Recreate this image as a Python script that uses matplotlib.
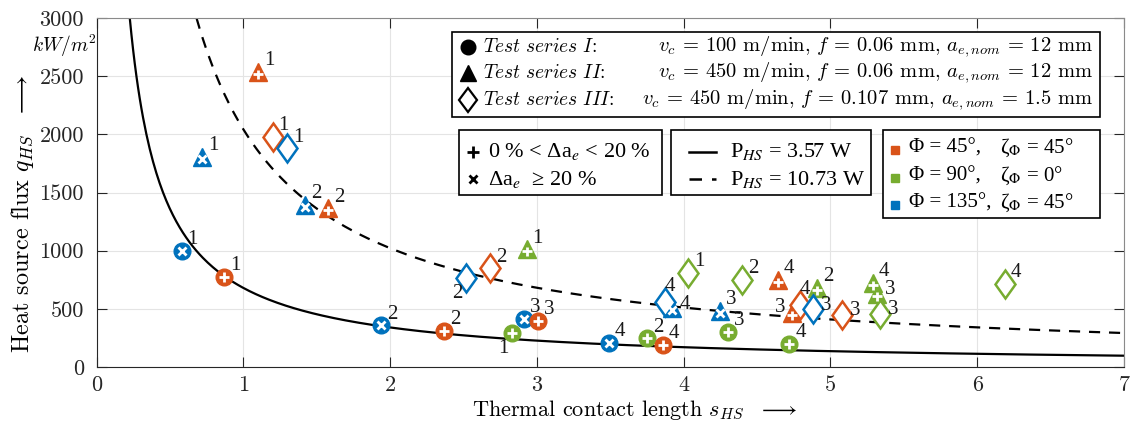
import numpy as np
import matplotlib
matplotlib.use('Agg')
import matplotlib.pyplot as plt
from matplotlib.markers import MarkerStyle
from matplotlib.transforms import Affine2D
from matplotlib.patches import Rectangle
from matplotlib.lines import Line2D

plt.rcParams['mathtext.fontset'] = 'cm'
plt.rcParams['font.family'] = 'cmr10'
plt.rcParams['axes.formatter.use_mathtext'] = True

# ---------------- data ----------------
# Test series I (circles)
s_I = [0.58, 0.87, 1.94, 2.37, 2.83, 2.91, 3.01, 3.49, 3.75, 3.86, 4.30, 4.72]
q_I = [1000, 775, 360, 310, 290, 412, 398, 209, 247, 189, 304, 198]
c_I = ['b', 'o', 'b', 'o', 'g', 'b', 'o', 'b', 'g', 'o', 'g', 'g']
n_I = ['1', '1', '2', '2', '1', '3', '3', '4', '2', '4', '3', '4']
p_I = ['ur', 'ur', 'ur', 'ur', 'll', 'ur', 'ur', 'ur', 'ur', 'ur', 'ur', 'ur']

# Test series II (triangles)
s_II = [0.72, 1.10, 1.42, 1.58, 2.93, 3.92, 4.25, 4.64, 4.74, 4.91, 5.29, 5.32]
q_II = [1808, 2540, 1393, 1364, 1012, 504, 484, 748, 463, 679, 725, 627]
c_II = ['b', 'o', 'b', 'o', 'g', 'b', 'b', 'o', 'o', 'g', 'g', 'g']
n_II = ['1', '1', '2', '2', '1', '4', '3', '4', '3', '2', '4', '3']
p_II = ['ur', 'ur', 'ur', 'ur', 'ur', 'r', 'ur', 'ur', 'l', 'ur', 'ur', 'r']

# Test series III (diamonds)
s_III = [1.20, 1.30, 2.52, 2.68, 3.87, 4.03, 4.40, 4.79, 4.88, 5.08, 5.34, 6.19]
q_III = [1980, 1880, 762, 848, 562, 811, 748, 533, 496, 447, 456, 713]
c_III = ['o', 'b', 'b', 'o', 'b', 'g', 'g', 'o', 'b', 'o', 'g', 'g']
n_III = ['1', '1', '2', '2', '4', '1', '2', '4', '3', '3', '3', '4']
p_III = ['ur', 'ur', 'll', 'ur', 'u', 'ur', 'ur', 'u', 'r', 'r', 'r', 'ur']

# Heat source power lines q = P / (s * b)
P_HS = [3.57, 10.73]          # W
b_HS = 5.25                    # mm
line_styles = ['-', '--']

x_ticks = [0, 1, 2, 3, 4, 5, 6, 7]
y_ticks = [0, 500, 1000, 1500, 2000, 2500, 3000]

colors = {'o': '#D95319', 'g': '#77AC30', 'b': '#0072BD'}
# ---------------------------------------

W, H = 1130, 425
fig = plt.figure(figsize=(W / 100, H / 100), dpi=100)
L, R, T, B = 96.5, 1124, 18, 367
ax = fig.add_axes([L / W, 1 - B / H, (R - L) / W, (B - T) / H])


def fx(x):
    return x / W


def fy(y):
    return 1 - y / H


ax.set_xlim(0, 7)
ax.set_ylim(0, 3000)
ax.set_xticks(x_ticks)
ax.set_yticks(y_ticks)
ax.set_xticklabels([str(v) for v in x_ticks])
ax.set_yticklabels([str(v) for v in y_ticks])
ax.tick_params(direction='in', length=7, width=0.8, top=True, right=True,
               labelsize=16, colors='#262626')
ax.tick_params(axis='x', pad=6)
ax.tick_params(axis='y', pad=9)
ax.grid(True, color='#e4e4e4', lw=0.8)
ax.set_axisbelow(True)
for sp in ['left', 'bottom']:
    ax.spines[sp].set_color('#262626')
for sp in ['top', 'right']:
    ax.spines[sp].set_color('#8a8a8a')

# hyperbolas
for P, ls in zip(P_HS, line_styles):
    k = 1000.0 * P / b_HS
    s = np.linspace(k / 3000.0, 7, 600)
    ax.plot(s, k / s, color='black', ls=ls, lw=1.6, zorder=2,
            dashes=(5, 4) if ls == '--' else (None, None))

MS_C = 12
MS_T = 13
MS_D = 14
diamond = MarkerStyle('D', transform=Affine2D().scale(0.75, 1.0))
offs = {'ur': (8, 8), 'r': (9.5, 3), 'u': (4, 11), 'l': (-9, 4), 'll': (-6.5, -11)}


def draw_series(s_list, q_list, c_list, n_list, p_list, kind):
    for s, q, c, n, p in zip(s_list, q_list, c_list, n_list, p_list):
        col = colors[c]
        inner = 'x' if c == 'b' else '+'
        if kind == 'circle':
            ax.plot([s], [q], 'o', ms=MS_C, color=col, mec=col, zorder=4)
            ax.plot([s], [q], marker=inner, ms=6.5 if inner == '+' else 5.5,
                    mew=2.0, color='white', ls='none', zorder=5)
        elif kind == 'tri':
            ax.plot([s], [q], '^', ms=MS_T, color=col, mec=col, zorder=4)
            m = MarkerStyle(inner, transform=Affine2D().translate(0, -0.25))
            ax.plot([s], [q], marker=m, ms=6.5 if inner == '+' else 5.5,
                    mew=2.0, color='white', ls='none', zorder=5)
        else:
            ax.plot([s], [q], marker=diamond, ms=MS_D, mfc='white', mec=col,
                    mew=1.8, ls='none', zorder=4)
        ax.annotate(n, (s, q), xytext=offs[p], textcoords='offset points',
                    ha='center', va='center', fontsize=15,
                    family='Liberation Serif', color='#1a1a1a', zorder=6)


draw_series(s_I, q_I, c_I, n_I, p_I, 'circle')
draw_series(s_II, q_II, c_II, n_II, p_II, 'tri')
draw_series(s_III, q_III, c_III, n_III, p_III, 'diamond')


# ---------------- legends (drawn boxes) ----------------
def box(x0, y0, x1, y1):
    fig.add_artist(Rectangle((fx(x0), fy(y1)), fx(x1) - fx(x0), fy(y0) - fy(y1),
                             transform=fig.transFigure, facecolor='white',
                             edgecolor='black', lw=1.2, zorder=10))


def fmark(x, y, **kw):
    fig.add_artist(Line2D([fx(x)], [fy(y)], transform=fig.transFigure,
                          ls='none', zorder=11, **kw))


# box 1: test series
box(452, 32, 1100, 117)
rows1 = [47, 73, 100]
fmark(468, rows1[0], marker='o', ms=10.5, color='black')
fmark(468, rows1[1], marker='^', ms=12, color='black')
fmark(468, rows1[2], marker=diamond, ms=12.5, mfc='white', mec='black', mew=1.6)
names = [r'$\mathit{Test\ series\ I}$:', r'$\mathit{Test\ series\ II}$:',
         r'$\mathit{Test\ series\ III}$:']
params = [r'$v_c$ = 100 m/min, $f$ = 0.06 mm, $a_{e,nom}$ = 12 mm',
          r'$v_c$ = 450 m/min, $f$ = 0.06 mm, $a_{e,nom}$ = 12 mm',
          r'$v_c$ = 450 m/min, $f$ = 0.107 mm, $a_{e,nom}$ = 1.5 mm']
for y, nm, pr in zip(rows1, names, params):
    fig.text(fx(483), fy(y), nm, ha='left', va='center', fontsize=14, zorder=12)
    fig.text(fx(1093), fy(y), pr, ha='right', va='center', fontsize=14.8, zorder=12)

tfont = dict(family='Liberation Serif', math_fontfamily='stix', fontsize=16,
             zorder=12, va='center', ha='left')
tfont4 = dict(tfont, fontsize=15)

# box 2: delta a_e
box(459, 130, 662, 195)
fmark(473, 152, marker='+', ms=8, mew=2, color='black')
fmark(473, 179, marker='x', ms=5.5, mew=2, color='black')
fig.text(fx(488), fy(152), r'0 % < Δa$_{e}$ < 20 %', **tfont)
fig.text(fx(488), fy(179), r'Δa$_{e}$  ≥ 20 %', **tfont)

# box 3: power lines
box(671, 130, 871, 195)
for y, ls, P in zip([152, 179], line_styles, P_HS):
    fig.add_artist(Line2D([fx(689), fx(716)], [fy(y), fy(y)], transform=fig.transFigure,
                          color='black', lw=1.8, ls=ls, zorder=11,
                          dashes=(5, 4) if ls == '--' else (None, None)))
    fig.text(fx(730), fy(y), r'P$_{HS}$ = ' + f'{P:.2f}' + ' W', **tfont)

# box 4: orientation colours
box(883, 130, 1100, 218)
rows4 = [148, 176, 203]
phi_txt = ['Φ = 45°,', 'Φ = 90°,', 'Φ = 135°,']
zeta_txt = [r'ζ$_{Φ}$ = 45°', r'ζ$_{Φ}$ = 0°', r'ζ$_{Φ}$ = 45°']
for y, c, a, z in zip(rows4, ['o', 'g', 'b'], phi_txt, zeta_txt):
    fmark(895, y + 2, marker='s', ms=6, color=colors[c])
    fig.text(fx(909), fy(y), a, **tfont4)
    fig.text(fx(1000), fy(y), z, **tfont4)

# axis labels
fig.text(fx(23), fy(214), r'Heat source flux $q_{HS}$  $\longrightarrow$',
         rotation=90, ha='center', va='center', fontsize=17.5)
fig.text(fx(64), fy(46), r'$kW/m^2$', ha='center', va='center', fontsize=14)
fig.text(fx(635), fy(410), r'Thermal contact length $s_{HS}$  $\longrightarrow$',
         ha='center', va='center', fontsize=16)

fig.savefig('out.png', dpi=100)
